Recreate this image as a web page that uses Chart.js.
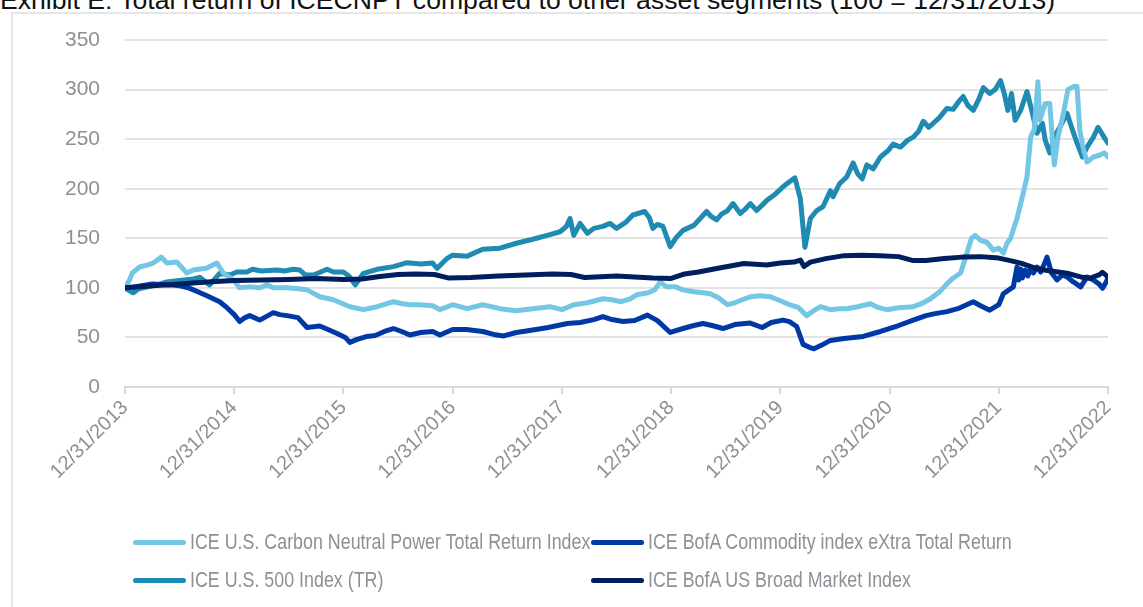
<!DOCTYPE html>
<html><head><meta charset="utf-8">
<script src="https://cdn.jsdelivr.net/npm/chart.js@4.4.1/dist/chart.umd.min.js"></script>
<style>
html,body{margin:0;padding:0;background:#fff;overflow:hidden;width:1143px;height:607px}
#frame{position:absolute;left:11px;top:12px;width:1200px;height:700px;border:2px solid #e6e6e6;box-sizing:border-box}
#title{position:absolute;left:0;top:-13px;font-family:'Liberation Sans',Arial,sans-serif;font-size:26.6px;color:#111;white-space:nowrap;line-height:1}
#wrap{position:absolute;left:0;top:0;width:1143px;height:607px}
.lg{position:absolute;height:26px;display:flex;align-items:center;white-space:nowrap}
.lg i{display:block;width:53px;height:5px;border-radius:3px;margin-right:4px;flex:none}
.lg span{display:inline-block;font-family:'Liberation Sans',Arial,sans-serif;font-size:21.5px;color:#8c9196;transform:scaleX(0.83);transform-origin:0 50%}
</style></head>
<body>
<div id="frame"></div>
<div id="title">Exhibit E: Total return of ICECNPT compared to other asset segments (100 = 12/31/2013)</div>
<div id="wrap"><canvas id="c" width="1143" height="607"></canvas></div>
<div id="legend"></div>
<script>
// x = months since 12/31/2013, y = index level (100 = 12/31/2013)
const yearLabels = ['12/31/2013','12/31/2014','12/31/2015','12/31/2016','12/31/2017','12/31/2018','12/31/2019','12/31/2020','12/31/2021','12/31/2022'];
const seriesNames = ['ICE U.S. Carbon Neutral Power Total Return Index','ICE BofA Commodity index eXtra Total Return','ICE U.S. 500 Index (TR)','ICE BofA US Broad Market Index'];

const cnptSeries = [[0,100],[0.5,108],[0.8,115],[1.6,121],[2.4,123],[3.1,125],[4,131],[4.6,125],[5.7,126],[6.8,115],[7.5,118],[8.3,119],[9,120],[10.1,125],[10.8,115],[11.9,108],[12.6,100],[13.7,101],[14.8,100],[15.6,103],[16.3,100],[17.8,100],[19,99],[20,98],[21.4,91],[22.9,88],[24.7,81],[26.2,78],[27.7,81],[29.5,86],[30.5,84],[31.3,83],[32.4,83],[33.8,82],[34.6,78],[36,83],[37.6,79],[39.3,83],[41.2,79],[43,77],[44.8,79],[46.7,81],[48,78],[49.3,83],[50.8,85],[52.5,89],[53.5,88],[54.5,86],[55.5,89],[56.2,93],[57.5,95],[58.2,98],[58.8,106],[59.5,101],[60.5,101],[61.3,98],[62.5,96],[63.5,95],[64.3,94],[65.2,90],[66.2,83],[67,85],[67.8,88],[68.7,91],[69.8,92],[70.9,91],[72,87],[73,83],[74,80],[74.9,72],[75.5,76],[76.4,81],[77.5,78],[78.5,79],[79.3,79],[80.5,81],[81.9,84],[82.8,80],[83.7,78],[85,80],[86.6,81],[87.5,84],[88.5,89],[89.5,96],[90.3,104],[91,110],[91.8,115],[92.4,132],[93,150],[93.4,153],[94,148],[94.7,146],[95.4,138],[96,140],[96.5,135],[96.9,145],[97.3,150],[98,170],[98.7,196],[99.1,212],[99.5,252],[99.9,260],[100.3,308],[100.5,269],[101.1,286],[101.6,286],[102.1,224],[102.5,252],[103.1,276],[103.6,300],[104.2,303],[104.6,303],[104.9,259],[105.3,240],[105.7,227],[106.4,232],[107.1,234],[107.6,236],[108,232]];

const commoditySeries = [[0,100],[1,101],[3,104],[5,103],[6,102],[7,100],[8,96],[9,92],[10.4,86],[11.2,80],[12,73],[12.6,66],[13.2,70],[13.7,72],[14.8,67.5],[15.5,71],[16.3,75],[17,73],[17.8,72],[19,70],[20,60],[21.4,61.5],[22.3,58],[23.3,54],[24.2,50],[24.7,45],[25.5,48],[26.6,51],[27.5,52],[28.5,56],[29.5,59],[30.4,56],[31.3,52.5],[32.5,55],[33.8,56],[34.6,52.5],[36,58],[37.5,58],[39.3,56],[40.5,53],[41.6,51.5],[43,55],[44.8,57.5],[46.5,60],[48.6,64],[50,65],[51.5,68],[52.5,71],[53.5,68],[54.7,66],[56,67],[57.4,72.5],[58.5,67],[59.9,55],[61.3,59],[62.5,62],[63.5,64],[64.5,62],[65.7,59],[67,63],[68.7,64.5],[70,60],[71,65],[72.3,67.5],[73,66],[73.8,61],[74.5,43],[75.2,40],[75.7,38.5],[76.5,42],[77.5,47],[79,49],[81.1,51],[83,56],[85,62],[86.6,67.5],[88,72],[89,74],[90.3,76],[91.5,79],[93.2,86],[94,82],[95,77.5],[96,83],[96.5,94],[97.6,101],[98,121],[98.2,108],[98.4,119],[98.6,110],[98.9,118],[99.2,112],[99.5,120],[99.8,115],[100.2,121],[100.6,116],[101,124],[101.3,131],[101.8,115],[102.4,108],[103,113],[103.5,111],[104.2,106],[105,101],[105.7,111],[106.4,108],[107,104],[107.4,99.6],[107.8,106],[108,110]];

const us500Series = [[0,100],[0.5,97],[0.9,95],[1.5,99],[2.5,101],[3.5,103],[4.6,106],[5.5,107],[6.5,108],[7.5,109],[8.2,110.6],[9.3,103],[10.4,114.7],[11.5,113],[12.3,116],[13.4,116],[14,118.7],[15,117],[16.7,118],[17.5,117],[18.5,118.7],[19.2,118],[19.8,113],[20.7,113],[21.5,116],[22.2,118.7],[22.9,116],[24,116],[24.6,112],[25.3,103],[26.2,114.7],[27.7,118.7],[29.5,121.4],[31,125.4],[32.5,124],[33.8,125],[34.3,119.7],[35.4,129.8],[36,133],[37.6,132],[39.3,138.9],[41.2,140],[43,145],[44.8,149],[46.4,153],[47.8,156.6],[48.5,162],[48.9,170],[49.3,153],[50,165],[50.8,155],[51.5,160],[52.5,162],[53.3,165],[54,160],[55,166],[55.8,173.5],[57.1,177],[57.6,171],[58,160],[58.5,164],[59.1,162],[59.9,141.5],[60.5,150],[61.3,158],[62.5,163],[63.9,177],[64.4,172],[65,168.5],[65.5,174],[66.2,178],[66.8,185],[67.2,180],[67.6,175],[68.2,180],[68.7,185],[69.4,178],[70.5,188],[71.5,195],[72.3,202],[73,207],[73.6,211],[74.2,190],[74.7,141],[75.3,170],[76,178],[76.7,182],[77.5,198],[77.8,192],[78.5,205],[79.3,212],[80,226],[80.5,215],[81,210],[81.5,224],[82.2,220],[83,232],[83.9,239],[84.4,245],[85.2,242],[86,249],[86.6,252],[87.2,258],[87.7,268],[88.3,262],[88.8,266],[89.5,272],[90.3,281],[91,280],[91.6,288],[92.1,293],[92.6,284],[93.2,279],[93.8,290],[94.3,302],[95,296],[95.6,300],[96.2,309],[96.6,296],[97,279],[97.4,296],[97.8,269],[98.4,279],[99.1,298],[99.7,276],[100.2,256],[100.8,266],[101.1,249],[101.6,236],[102.2,254],[102.7,262],[103.5,276],[104,262],[104.6,246],[105.2,232],[105.7,242],[106.4,252],[106.9,262],[107.7,250],[108,246]];

const broadSeries = [[0,100],[3,102],[6,104],[9,106],[12,107.5],[15,108],[18,108.5],[21,109.5],[24,108.5],[26,109],[28,111.5],[30,113.5],[32,114],[34,113.5],[35.5,110],[38,110.5],[41,112],[44,113],[47,114],[49,113.5],[50.5,110.5],[54,112],[58,110],[60,109.5],[61.5,114],[63,116],[65,119.5],[68,124.5],[70.5,123],[72,125],[73.5,126],[74.2,128],[74.6,121.5],[75.3,126],[77,129.5],[79,132.5],[81,133],[83,132.5],[85,131.5],[86.6,127.5],[88,127.5],[90,129.5],[92,131],[94,131.5],[96,130],[97.5,127],[98.5,124.7],[100,120],[101,118],[102.5,116],[103.5,114.7],[105,111],[106,109.6],[107,113],[107.4,115.7],[108,111]];

const seriesData = [cnptSeries, commoditySeries, us500Series, broadSeries];
const seriesColors = ['#74C6E5','#0039A6','#1F8AB2','#001F5F'];
const drawOrder = [2,1,3,0]; // lower = drawn on top

const font = "'Liberation Sans',Arial,sans-serif";
const gray = '#8c9196';

const datasets = seriesData.map((s, i) => ({
  label: seriesNames[i],
  data: s.map(p => ({x: p[0], y: p[1]})),
  borderColor: seriesColors[i],
  backgroundColor: seriesColors[i],
  order: drawOrder[i]
}));

new Chart(document.getElementById('c'), {
  type: 'line',
  data: { datasets },
  options: {
    responsive: false,
    animation: false,
    parsing: false,
    layout: { padding: { left: 0, right: 35, top: 40, bottom: 0 } },
    elements: {
      point: { radius: 0 },
      line: { borderWidth: 5, tension: 0, borderJoinStyle: 'round', borderCapStyle: 'round' }
    },
    plugins: { legend: { display: false }, tooltip: { enabled: false } },
    scales: {
      x: {
        type: 'linear', min: 0, max: 108,
        afterFit(s) { s.height = 220; },
        ticks: {
          stepSize: 12, autoSkip: false, maxRotation: 45, minRotation: 45,
          color: gray, font: { family: font, size: 20 }, padding: 2,
          callback: v => yearLabels[Math.round(v / 12)]
        },
        grid: { display: true, drawOnChartArea: false, drawTicks: true, tickLength: 7, color: '#d9d9d9', lineWidth: 2 },
        border: { display: true, color: '#d9d9d9', width: 2 }
      },
      y: {
        min: 0, max: 350,
        afterFit(s) { s.width = 125; },
        ticks: { stepSize: 50, padding: 25, color: gray, font: { family: font, size: 21 } },
        grid: { color: '#e3e3e3', lineWidth: 2, drawTicks: false },
        border: { display: false }
      }
    }
  }
});

// legend (2 x 2 grid, like the original)
const legendPos = [[133, 529], [591, 529], [133, 567], [591, 567]];
const lg = document.getElementById('legend');
seriesNames.forEach((name, k) => {
  const d = document.createElement('div');
  d.className = 'lg';
  d.style.left = legendPos[k][0] + 'px';
  d.style.top = legendPos[k][1] + 'px';
  const sw = document.createElement('i');
  sw.style.background = seriesColors[k];
  const t = document.createElement('span');
  t.textContent = name;
  d.appendChild(sw); d.appendChild(t);
  lg.appendChild(d);
});
</script>
</body></html>
